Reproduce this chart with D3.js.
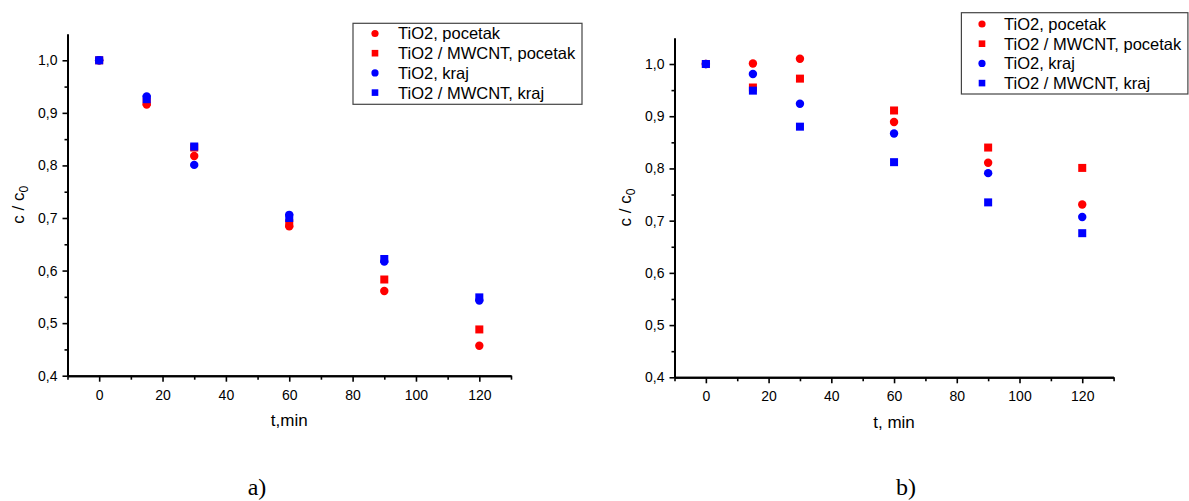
<!DOCTYPE html>
<html>
<head>
<meta charset="utf-8">
<script src="https://cdn.jsdelivr.net/npm/d3@7"></script>
<style>
  html, body { margin: 0; padding: 0; background: #fff; }
  svg { display: block; }
  text { font-family: Arial, "Liberation Sans", sans-serif; fill: #000; }
</style>
</head>
<body>
<svg id="chart" width="1189" height="501"></svg>
<script>
// ---------- data ----------
const times = [0, 15, 30, 60, 90, 120];
const seriesNames = ["TiO2, pocetak", "TiO2 / MWCNT, pocetak", "TiO2, kraj", "TiO2 / MWCNT, kraj"];
const seriesColors = ["#ff0000", "#ff0000", "#0000ff", "#0000ff"];
const seriesShapes = ["circle", "square", "circle", "square"];

// panel a)
const aTiO2Start  = [1.000, 0.916, 0.818, 0.684, 0.561, 0.457];
const aMwcntStart = [1.000, 0.921, 0.834, 0.690, 0.583, 0.488];
const aTiO2End    = [1.000, 0.931, 0.801, 0.706, 0.617, 0.543];
const aMwcntEnd   = [1.000, 0.926, 0.836, 0.700, 0.622, 0.549];

// panel b)
const bTiO2Start  = [1.000, 1.001, 1.010, 0.889, 0.811, 0.731];
const bMwcntStart = [1.000, 0.955, 0.972, 0.911, 0.840, 0.801];
const bTiO2End    = [1.000, 0.981, 0.924, 0.867, 0.791, 0.707];
const bMwcntEnd   = [1.000, 0.949, 0.880, 0.812, 0.735, 0.676];

const xMajorTicks = [0, 20, 40, 60, 80, 100, 120];
const xMinorTicks = [-10, 10, 30, 50, 70, 90, 110, 130];
const yMajorTicks = [0.4, 0.5, 0.6, 0.7, 0.8, 0.9, 1.0];
const yMinorTicks = [0.45, 0.55, 0.65, 0.75, 0.85, 0.95];
const xDomain = [-10, 130];
const yDomain = [0.4, 1.05];

const svg = d3.select("#chart");
svg.append("rect").attr("width", 1189).attr("height", 501).attr("fill", "#fff");

const fmt = v => d3.format(".1f")(v).replace(".", ",");

function drawPanel(cfg) {
  const x = d3.scaleLinear().domain(xDomain).range([cfg.x0, cfg.x1]);
  const y = d3.scaleLinear().domain(yDomain).range([cfg.yBottom, cfg.yTop]);
  const g = svg.append("g");

  // axes
  const xAxis = g.append("g").attr("transform", `translate(0,${cfg.yBottom})`)
    .call(d3.axisBottom(x).tickValues(xMajorTicks).tickSize(6).tickPadding(8).tickSizeOuter(0).tickFormat(d3.format("d")));
  const xMinor = g.append("g").attr("transform", `translate(0,${cfg.yBottom})`)
    .call(d3.axisBottom(x).tickValues(xMinorTicks).tickSize(4).tickSizeOuter(0).tickFormat(""));
  const yAxis = g.append("g").attr("transform", `translate(${cfg.x0},0)`)
    .call(d3.axisLeft(y).tickValues(yMajorTicks).tickSize(5).tickPadding(5).tickSizeOuter(0).tickFormat(fmt));
  const yMinor = g.append("g").attr("transform", `translate(${cfg.x0},0)`)
    .call(d3.axisLeft(y).tickValues(yMinorTicks).tickSize(3).tickSizeOuter(0).tickFormat(""));
  [xAxis, xMinor, yAxis, yMinor].forEach(a => {
    a.select(".domain").attr("stroke", "#000").attr("stroke-width", 2);
    a.selectAll(".tick line").attr("stroke", "#000").attr("stroke-width", 1.6);
    a.selectAll("text").attr("font-size", 14).attr("fill", "#000");
  });

  // axis titles
  g.append("text").attr("x", (cfg.x0 + cfg.x1) / 2).attr("y", cfg.xTitleY)
    .attr("text-anchor", "middle").attr("font-size", 17).text(cfg.xTitle);
  const yt = g.append("text")
    .attr("transform", `translate(${cfg.yTitleX},${(cfg.yTop + cfg.yBottom) / 2}) rotate(-90)`)
    .attr("text-anchor", "middle").attr("font-size", 17);
  yt.append("tspan").text("c / c");
  yt.append("tspan").attr("font-size", 12).attr("dy", 4).text("0");

  // markers
  cfg.series.forEach((vals, si) => {
    const color = seriesColors[si];
    const pts = times.map((t, i) => ({ t, v: vals[i] }));
    if (seriesShapes[si] === "circle") {
      g.selectAll(null).data(pts).enter().append("circle")
        .attr("cx", d => x(d.t)).attr("cy", d => y(d.v)).attr("r", 4.2).attr("fill", color);
    } else {
      g.selectAll(null).data(pts).enter().append("rect")
        .attr("x", d => x(d.t) - 4).attr("y", d => y(d.v) - 4).attr("width", 8).attr("height", 8).attr("fill", color);
    }
  });

  // legend
  const L = cfg.legend;
  g.append("rect").attr("x", L.x).attr("y", L.y).attr("width", L.w).attr("height", L.h)
    .attr("fill", "#fff").attr("stroke", "#444").attr("stroke-width", 1.2);
  seriesNames.forEach((name, i) => {
    const ry = L.rows[i];
    if (seriesShapes[i] === "circle") {
      g.append("circle").attr("cx", L.mx).attr("cy", ry).attr("r", 3.6).attr("fill", seriesColors[i]);
    } else {
      g.append("rect").attr("x", L.mx - 3.3).attr("y", ry - 3.3).attr("width", 6.6).attr("height", 6.6).attr("fill", seriesColors[i]);
    }
    g.append("text").attr("x", L.tx).attr("y", ry).attr("dy", "0.36em")
      .attr("font-size", 16.5).text(name);
  });

  // caption
  svg.append("text").attr("x", cfg.capX).attr("y", 495).attr("text-anchor", "middle")
    .style("font-family", "'Liberation Serif', 'Times New Roman', serif").attr("font-size", 24).text(cfg.caption);
}

drawPanel({
  x0: 67.5, x1: 511, yTop: 34, yBottom: 375.7,
  xTitle: "t,min", xTitleY: 426, yTitleX: 24,
  series: [aTiO2Start, aMwcntStart, aTiO2End, aMwcntEnd],
  legend: { x: 353, y: 23.3, w: 229, h: 81, mx: 375, tx: 398, rows: [33.5, 53.2, 72.9, 92.6] },
  caption: "a)", capX: 257
});

drawPanel({
  x0: 674.5, x1: 1113.6, yTop: 37.9, yBottom: 377.3,
  xTitle: "t, min", xTitleY: 428, yTitleX: 631,
  series: [bTiO2Start, bMwcntStart, bTiO2End, bMwcntEnd],
  legend: { x: 961.4, y: 12.7, w: 226.5, h: 81.3, mx: 982, tx: 1004, rows: [24, 43.7, 63.4, 83.1] },
  caption: "b)", capX: 906
});
</script>
</body>
</html>
